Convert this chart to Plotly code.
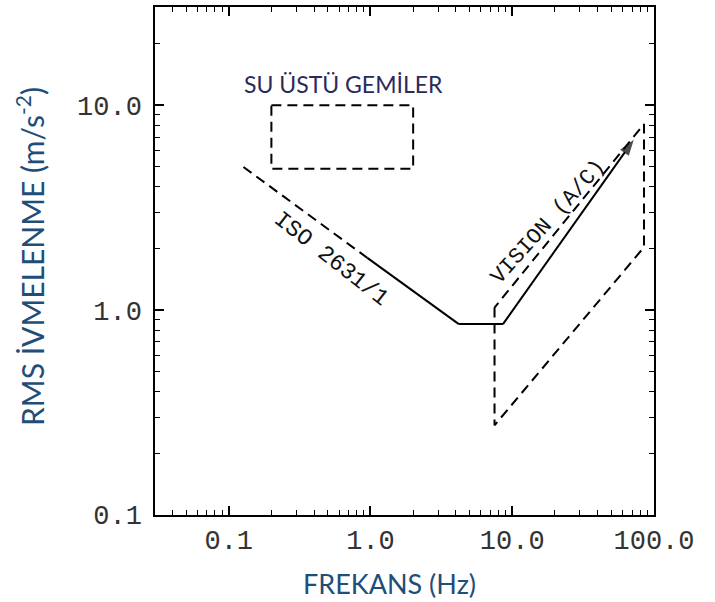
import plotly.graph_objects as go

# ---------------- data ----------------
tick_vals_x = [0.1, 1, 10, 100]
tick_text_x = ["0.1", "1.0", "10.0", "100.0"]
tick_vals_y = [0.1, 1, 10]
tick_text_y = ["0.1", "1.0", "10.0"]

# ISO 2631/1 curve (dashed low-frequency part, solid remainder)
iso_dash_f = [0.127, 0.95]
iso_dash_a = [5.0, 1.8]
iso_solid_f = [0.95, 4.2, 8.6, 72]
iso_solid_a = [1.8, 0.855, 0.855, 6.8]

# Surface ships box
ship_f = [0.2, 2.0, 2.0, 0.2, 0.2]
ship_a = [10, 10, 4.9, 4.9, 10]

# VISION (A/C) region
vis_f = [7.5, 7.5, 85, 85, 7.5]
vis_a = [1.03, 0.274, 2.03, 8.1, 1.03]

# ---------------- styling ----------------
W, H = 715, 602
ML, MR, MT, MB = 155, 61, 5, 87
title_col = "#1F4E79"
label_col = "#2A2A5C"
mono = "Liberation Mono"
sans = "Lato"
dash = "10px,6px"

fig = go.Figure()
fig.add_trace(go.Scatter(x=iso_dash_f, y=iso_dash_a, mode="lines",
                         line=dict(color="black", width=2, dash=dash)))
arrow_sizes = [0] * (len(iso_solid_f) - 1) + [17]
fig.add_trace(go.Scatter(x=iso_solid_f, y=iso_solid_a, mode="lines+markers",
                         line=dict(color="black", width=2),
                         marker=dict(symbol="arrow", angleref="previous",
                                     size=arrow_sizes, color="black",
                                     line=dict(width=0))))
fig.add_trace(go.Scatter(x=ship_f, y=ship_a, mode="lines",
                         line=dict(color="black", width=2, dash=dash)))
fig.add_trace(go.Scatter(x=vis_f, y=vis_a, mode="lines",
                         line=dict(color="black", width=2, dash=dash)))

axis_common = dict(
    type="log", showgrid=False, zeroline=False,
    showline=True, linecolor="black", linewidth=1.5, mirror="allticks",
    ticks="inside", ticklen=9, tickwidth=1.5, tickcolor="black",
    minor=dict(ticks="inside", ticklen=5, tickwidth=1, tickcolor="black",
               dtick="D1", showgrid=False),
    tickfont=dict(family=mono, size=27, color="#333"),
)

fig.update_layout(
    width=W, height=H,
    margin=dict(l=ML, r=MR, t=MT, b=MB),
    paper_bgcolor="white", plot_bgcolor="white",
    showlegend=False,
    xaxis=dict(range=[-1.52, 2.0], tickvals=tick_vals_x, ticktext=tick_text_x,
               **axis_common),
    yaxis=dict(range=[-1.0, 1.48], tickvals=tick_vals_y, ticktext=tick_text_y,
               ticklabelstandoff=6, **axis_common),
)

# labels
fig.add_annotation(x=-0.28, y=0.249, xref="x", yref="y", text="ISO 2631/1",
                   showarrow=False, textangle=38,
                   font=dict(family=mono, size=23, color="#111"))
fig.add_annotation(x=1.252, y=0.43, xref="x", yref="y", text="VISION (A/C)",
                   showarrow=False, textangle=-48,
                   font=dict(family=mono, size=22, color="#111"))
fig.add_annotation(x=-0.189, y=1.105, xref="x", yref="y", text="SU ÜSTÜ GEMİLER",
                   showarrow=False,
                   font=dict(family=sans, size=23, color=label_col))

# axis titles
fig.add_annotation(x=0.469, y=0, xref="paper", yref="paper", yshift=-68,
                   xanchor="center", yanchor="middle",
                   text="FREKANS (Hz)", showarrow=False,
                   font=dict(family=sans, size=27, color=title_col))
fig.add_annotation(x=0, y=0.508, xref="paper", yref="paper", xshift=-125,
                   xanchor="center", yanchor="middle",
                   text="RMS İVMELENME (m/s<sup>-2</sup>)", showarrow=False,
                   textangle=-90,
                   font=dict(family=sans, size=30, color=title_col))

fig.write_html("out.html", config={"displayModeBar": False},
               post_script="document.body.style.margin='0';")
